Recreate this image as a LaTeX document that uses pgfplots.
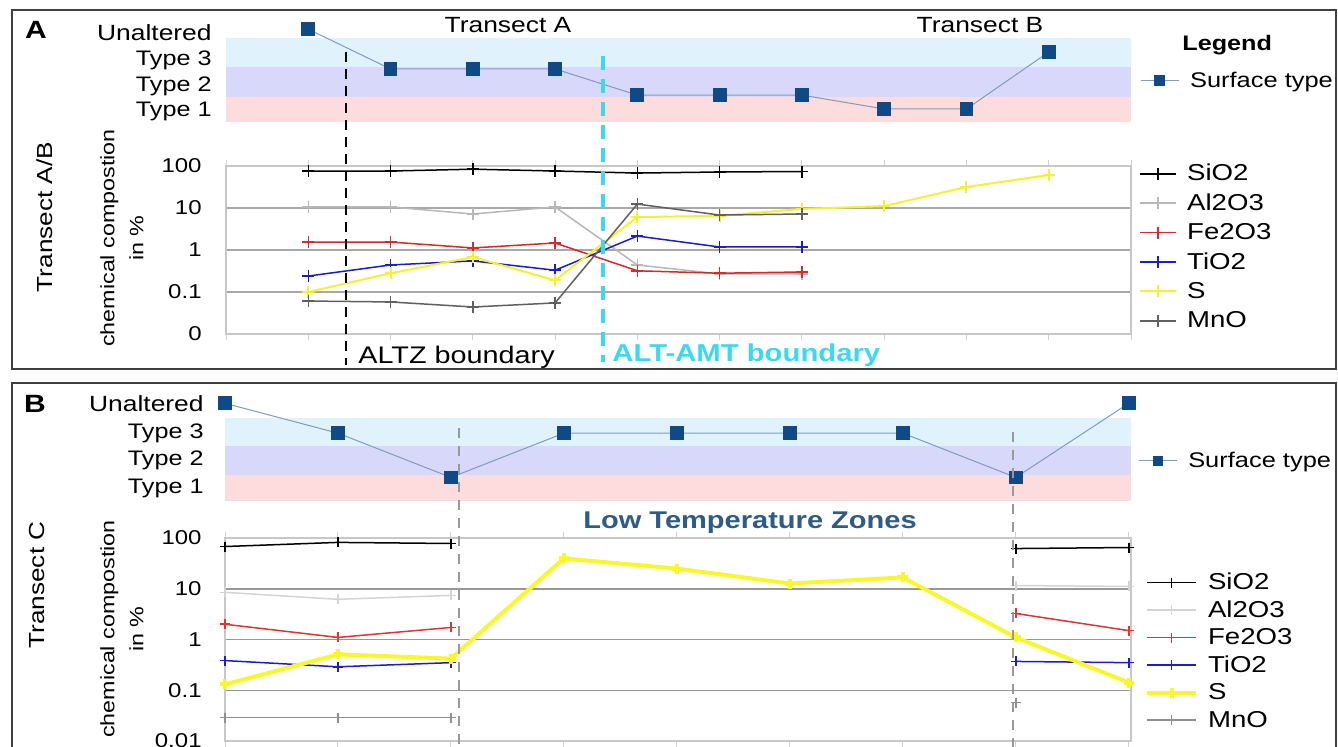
\documentclass[border=0pt]{standalone}
\usepackage{pgfplots}
\pgfplotsset{compat=1.18}
\usepackage{fontspec}
\setmainfont{Liberation Sans}[FakeStretch=1.2]
\definecolor{sqblue}{HTML}{0F4A87}
\definecolor{sqline}{HTML}{7F9CC0}
\definecolor{bandC}{HTML}{E0F3FD}
\definecolor{bandB}{HTML}{D8D8FA}
\definecolor{bandA}{HTML}{FCDCDC}
\definecolor{cyanb}{HTML}{3CD8F0}
\definecolor{gridg}{HTML}{A8A8A8}
\definecolor{gridg2}{HTML}{989898}
\definecolor{alg}{HTML}{B8B8B8}
\definecolor{algB}{HTML}{D4D4D4}
\definecolor{feR}{HTML}{D42A2A}
\definecolor{feRB}{HTML}{E03434}
\definecolor{tiB}{HTML}{1C1CC8}
\definecolor{sY}{HTML}{F2F230}
\definecolor{sYB}{HTML}{F8F828}
\definecolor{mnG}{HTML}{606060}
\definecolor{mnGB}{HTML}{909090}
\definecolor{ltz}{HTML}{2E5C85}
\newcommand{\fs}[1]{\fontsize{#1}{#1}\selectfont}
\pgfplotsset{
  surfax/.style={scale only axis, clip=false,
    axis line style={draw=none}, major tick style={draw=none},
    xtick=\empty, ymin=0.5, ymax=4.5, ytick={1,2,3,4},
    yticklabels={Type 1,Type 2,Type 3,{\fs{11}Unaltered}},
    yticklabel style={font=\fs{10.5}, inner sep=0pt, anchor=east, text depth=0pt},
    legend style={draw=none, fill=none, inner sep=0pt, outer sep=0pt, font=\fs{10.6},
      column sep=5pt, nodes={inner sep=0.5pt, text height=9pt, text depth=2.5pt}},
    legend cell align=left,
    legend image code/.code={\draw[mark repeat=2,mark phase=2,mark size=2.3pt] plot coordinates {(0pt,0pt)(9.5pt,0pt)(19pt,0pt)};},
  },
  surfline/.style={sqline, line width=0.5pt, mark=square*, mark size=3.2pt, mark options={draw=sqblue, fill=sqblue}},
  band/.style={draw=none, fill=#1, forget plot},
  chemax/.style={scale only axis, ymin=0.01, ymax=100, ytick={0.01,0.1,1,10,100},
    ymajorgrids, grid style={gridg, line width=0.6pt}, clip mode=individual,
    axis line style={draw=black!22, line width=0.6pt},
    ytick style={draw=none}, yticklabel style={font=\fs{10}, inner sep=0pt, anchor=east},
    xticklabels={}, xtick style={draw=black!18, line width=0.5pt}, tick align=outside, major tick length=3pt,
    unbounded coords=jump,
    legend style={draw=none, fill=none, inner sep=0pt, outer sep=0pt, font=\fs{11.5},
      column sep=4.5pt, nodes={inner sep=0.5pt, text height=9pt, text depth=2pt}},
    legend cell align=left,
    every axis plot/.append style={line width=0.75pt, mark=+, mark size=3pt, mark options={solid}},
  },
}
\begin{document}
\begin{tikzpicture}[x=0.5pt,y=-0.5pt]
\useasboundingbox (0,0) rectangle (1338,746);
\clip (0,0) rectangle (1338,746);
\fill[white] (0,0) rectangle (1338,746);
% ================= Panel A =================
\begin{axis}[surfax, at={(113pt,-61.15pt)}, anchor=south west, width=452.5pt, height=51.3pt,
  xmin=-1, xmax=10, yticklabel style={xshift=-7pt},
  legend style={at={(1.01,0.529)}, anchor=north west}]
\addplot[band=bandC] coordinates {(-1,2.65)(10,2.65)(10,3.78)(-1,3.78)};
\addplot[band=bandB] coordinates {(-1,1.48)(10,1.48)(10,2.65)(-1,2.65)};
\addplot[band=bandA] coordinates {(-1,0.52)(10,0.52)(10,1.48)(-1,1.48)};
\addplot[surfline] coordinates {(0,4.13)(1,2.58)(2,2.58)(3,2.58)(4,1.56)(5,1.56)(6,1.56)(7,1.02)(8,1.02)(9,3.24)};
\addlegendentry{Surface type}
\end{axis}
\begin{axis}[ymode=log, chemax, at={(113pt,-167pt)}, anchor=south west, width=452.5pt, height=84pt,
  xmin=-1, xmax=10, xtick={-1,0,...,10}, yticklabels={0,0.1,1,10,100}, yticklabel style={xshift=-9pt},
  legend style={at={(1.009,1.025)}, anchor=north west, row sep=2.7pt},
  legend image code/.code={\draw[mark repeat=2,mark phase=2] plot coordinates {(0pt,0pt)(9pt,0pt)(18pt,0pt)};}]
\addplot[black] coordinates {(0,76)(1,76)(2,84)(3,76)(4,68)(5,72)(6,74)};
\addlegendentry{SiO2}
\addplot[alg] coordinates {(0,10.6)(1,10.6)(2,7.2)(3,10.6)(4,0.44)(5,0.27)(6,0.27)};
\addlegendentry{Al2O3}
\addplot[feR] coordinates {(0,1.55)(1,1.55)(2,1.12)(3,1.47)(4,0.32)(5,0.28)(6,0.30)};
\addlegendentry{Fe2O3}
\addplot[tiB] coordinates {(0,0.24)(1,0.44)(2,0.55)(3,0.33)(4,2.15)(5,1.18)(6,1.18)};
\addlegendentry{TiO2}
\addplot[sY, line width=1pt] coordinates {(0,0.10)(1,0.28)(2,0.68)(3,0.19)(4,6.1)(5,6.5)(6,9.5)(7,11.1)(8,31.6)(9,61)};
\addlegendentry{S}
\addplot[mnG] coordinates {(0,0.061)(1,0.058)(2,0.044)(3,0.055)(4,12.4)(5,6.8)(6,7.2)};
\addlegendentry{MnO}
\end{axis}
% ================= Panel B =================
\begin{axis}[surfax, at={(112.5pt,-249.9pt)}, anchor=south west, width=453pt, height=55.3pt,
  xmin=0, xmax=8.02, yticklabel style={xshift=-10.5pt},
  legend style={at={(1.008,0.465)}, anchor=north west}]
\addplot[band=bandC] coordinates {(0,2.44)(8.02,2.44)(8.02,3.46)(0,3.46)};
\addplot[band=bandB] coordinates {(0,1.39)(8.02,1.39)(8.02,2.44)(0,2.44)};
\addplot[band=bandA] coordinates {(0,0.47)(8.02,0.47)(8.02,1.39)(0,1.39)};
\addplot[surfline] coordinates {(0,3.99)(1,2.91)(2,1.31)(3,2.91)(4,2.91)(5,2.91)(6,2.91)(7,1.31)(8,3.99)};
\addlegendentry{Surface type}
\end{axis}
\begin{axis}[ymode=log, chemax, at={(112.5pt,-370.5pt)}, anchor=south west, width=453pt, height=101.5pt,
  xmin=0, xmax=8.02, xtick={0,...,8}, yticklabels={0.01,0.1,1,10,100}, yticklabel style={xshift=-8.5pt},
  grid style={gridg2, line width=0.75pt},
  every axis plot/.append style={mark size=2.5pt},
  legend style={at={(1.0155,0.84)}, anchor=north west, row sep=1.75pt},
  legend image code/.code={\draw[mark repeat=2,mark phase=2] plot coordinates {(0pt,0pt)(12.25pt,0pt)(24.5pt,0pt)};}]
\addplot[black] coordinates {(0,68)(1,82)(2,78)(3,nan)(7,62)(8,65)};
\addlegendentry{SiO2}
\addplot[algB] coordinates {(0,8.5)(1,6.2)(2,7.4)(3,nan)(7,11.6)(8,11.1)};
\addlegendentry{Al2O3}
\addplot[feRB] coordinates {(0,2.0)(1,1.1)(2,1.73)(3,nan)(7,3.26)(8,1.5)};
\addlegendentry{Fe2O3}
\addplot[tiB] coordinates {(0,0.385)(1,0.29)(2,0.35)(3,nan)(7,0.37)(8,0.35)};
\addlegendentry{TiO2}
\addplot[sYB, line width=2pt] coordinates {(0,0.13)(1,0.51)(2,0.42)(3,39.6)(4,25)(5,12.7)(6,16.7)(7,1.1)(8,0.142)};
\addlegendentry{S}
\addplot[mnGB] coordinates {(0,0.029)(1,0.029)(2,0.029)(3,nan)(7,0.057)};
\addlegendentry{MnO}
\end{axis}
% ================= annotations =================
\draw[black!75, line width=0.8pt] (12,10) rectangle (1336,369);
\draw[black!75, line width=0.8pt] (12,383) rectangle (1336,800);
\draw[black, line width=0.8pt, dash pattern=on 5pt off 3.5pt] (346,52) -- (346,365);
\draw[cyanb, line width=2.4pt, dash pattern=on 7pt off 4.5pt] (603,56) -- (603,362);
\draw[black!40, line width=0.8pt, dash pattern=on 5pt off 4pt] (459,428) -- (459,760);
\draw[black!40, line width=0.8pt, dash pattern=on 5pt off 4pt] (1013,432) -- (1013,760);
\node[font=\bfseries\fs{12.5}, anchor=base, inner sep=0pt] at (36,38) {A};
\node[font=\bfseries\fs{12.5}, anchor=base, inner sep=0pt] at (35,412) {B};
\node[font=\fs{11}, anchor=base, inner sep=0pt] at (508,32) {Transect A};
\node[font=\fs{11}, anchor=base, inner sep=0pt] at (980,32) {Transect B};
\node[font=\bfseries\fs{10.5}, anchor=base west, inner sep=0pt] at (1182,50) {Legend};
\node[font=\fs{12}, anchor=base west, inner sep=0pt] at (358,363) {ALTZ boundary};
\node[font=\bfseries\fs{12.2}, anchor=base west, inner sep=0pt, text=cyanb] at (612,361) {ALT-AMT boundary};
\node[font=\bfseries\fs{12.1}, anchor=base, inner sep=0pt, text=ltz] at (750,528) {Low Temperature Zones};
\node[font=\fs{10.9}, rotate=90, inner sep=0pt] at (45,217) {Transect A/B};
\node[font=\fs{10.9}, rotate=90, inner sep=0pt] at (37,585) {Transect C};
\node[font=\fontsize{9.7}{14.5}\selectfont, rotate=90, inner sep=0pt, align=center] at (122,238) {chemical compostion\\in \%};
\node[font=\fontsize{9.7}{14.5}\selectfont, rotate=90, inner sep=0pt, align=center] at (122,629) {chemical compostion\\in \%};
\end{tikzpicture}
\end{document}
